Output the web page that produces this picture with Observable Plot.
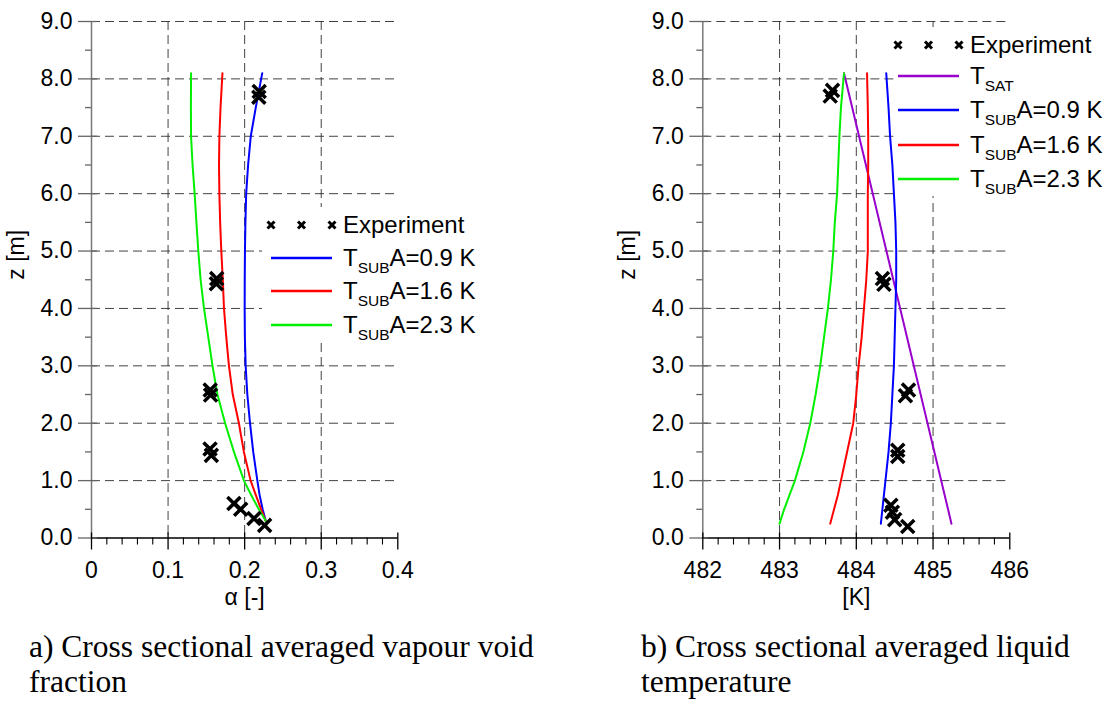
<!DOCTYPE html>
<html><head><meta charset="utf-8">
<script src="https://cdn.jsdelivr.net/npm/d3@7"></script>
<script src="https://cdn.jsdelivr.net/npm/@observablehq/plot@0.6"></script>
<style>
body{margin:0;background:#fff;}
#root{position:relative;width:1109px;height:701px;overflow:hidden;font-family:"Liberation Sans",Arial,sans-serif;background:#fff;}
.chart{position:absolute;top:0;}
.legend{position:absolute;background:#fff;}
.row{position:absolute;height:30px;display:flex;align-items:center;font-size:24px;white-space:nowrap;color:#000;}
.row svg{flex:none;margin-right:6px;}
.sub{font-size:15.5px;position:relative;top:7px;}
.caption{position:absolute;font-family:"Liberation Serif","Times New Roman",serif;font-size:31.5px;line-height:35px;color:#000;white-space:nowrap;}
</style></head><body><div id="root"></div><script>
// ---------- data ----------
const zMajor = [0,1,2,3,4,5,6,7,8,9];
const zGrid = [1,2,3,4,5,6,7,8,9];
const zMinor = [0.5,1.5,2.5,3.5,4.5,5.5,6.5,7.5,8.5];

const alphaTicks = [0,0.1,0.2,0.3,0.4];
const alphaGrid = [0.1,0.2,0.3];
const tempTicks = [482,483,484,485,486];
const tempGrid = [483,484,485];

// (a) void fraction – model curves
const zAlpha =      [0.3,   0.5,   0.75,  1.0,   1.5,   2.0,   2.5,   3.0,   3.5,   4.0,   4.5,   5.0,   5.5,   6.0,   6.5,   7.0,   7.5,   8.1];
const alphaSub09 =  [0.2275,0.2235,0.2195,0.2166,0.2112,0.2070,0.2035,0.2013,0.2003,0.2000,0.2001,0.2004,0.2010,0.2020,0.2045,0.2080,0.2145,0.2230];
const alphaSub16 =  [0.2275,0.2215,0.2145,0.2078,0.1990,0.1925,0.1845,0.1795,0.1760,0.1730,0.1715,0.1695,0.1680,0.1670,0.1665,0.1670,0.1685,0.1710];
const alphaSub23 =  [0.2275,0.2185,0.2085,0.1991,0.1860,0.1745,0.1645,0.1580,0.1525,0.1469,0.1425,0.1395,0.1370,0.1347,0.1320,0.1300,0.1298,0.1300];
// (a) experiment
const expAlphaZ = [7.78, 7.68, 4.52, 4.43, 2.58, 2.49, 1.55, 1.44, 0.60, 0.50, 0.34, 0.22];
const expAlpha  = [0.219,0.2185,0.1635,0.1630,0.1550,0.1555,0.1548,0.1565,0.1860,0.1948,0.2122,0.2261];

// (b) liquid temperature – model curves
const zTemp =      [0.25,  0.5,   0.75,  1.0,   1.5,   2.0,   2.5,   3.0,   3.5,   4.0,   4.5,   5.0,   5.5,   6.0,   6.5,   7.0,   7.5,   8.1];
const tempSub09 =  [484.32,484.34,484.36,484.38,484.42,484.45,484.47,484.49,484.50,484.51,484.52,484.52,484.51,484.49,484.47,484.44,484.42,484.39];
const tempSub16 =  [483.66,483.71,483.76,483.80,483.88,483.96,484.00,484.03,484.07,484.10,484.13,484.15,484.15,484.15,484.155,484.155,484.15,484.14];
const tempSub23 =  [483.00,483.06,483.13,483.20,483.31,483.40,483.47,483.53,483.58,483.63,483.67,483.70,483.72,483.75,483.765,483.78,483.80,483.84];
const tSatZ = [0.25, 8.1];
const tSat  = [485.24, 483.84];
// (b) experiment
const expTempZ = [7.80, 7.70, 4.52, 4.42, 2.58, 2.48, 1.53, 1.42, 0.57, 0.45, 0.32, 0.20];
const expTemp  = [483.69,483.66,484.34,484.36,484.68,484.64,484.54,484.54,484.45,484.47,484.50,484.67];

const seriesValues = ["0.9","1.6","2.3"];
const seriesColors = ["#0000ff","#ff0000","#00f000"];
const tSatColor = "#9900cc";

// ---------- build ----------
const toRows = (xs, zs) => xs.map((v,i)=>({v, z: zs[i]}));

function chart({xDomain, xTicks, xMinor, xGrid, curves, exp, xLabel, width, marginLeft, marginRight}) {
  const gridStyle = {stroke:"#222", strokeOpacity:0.85, strokeDasharray:"9,5", strokeWidth:1};
  return Plot.plot({
    width, height: 620, marginLeft, marginRight, marginTop: 21, marginBottom: 82.5,
    x: {domain: xDomain}, y: {domain: [0, 9]},
    style: {fontFamily: '"Liberation Sans", Arial, sans-serif', fontSize: "23px", background: "transparent", overflow: "visible", color: "#000"},
    marks: [
      Plot.gridY(zGrid, gridStyle),
      Plot.gridX(xGrid, gridStyle),
      Plot.ruleX([xDomain[0]], {stroke:"#777", strokeWidth:1.5}),
      Plot.ruleY([0], {stroke:"#000", strokeWidth:1.3}),
      Plot.axisY(zMajor, {tickSize:19, dx:6, fill:"none", stroke:"#666", strokeWidth:1.3, label:null}),
      Plot.axisY(zMinor, {tickSize:6, fill:"none", stroke:"#666", strokeWidth:1.3, label:null}),
      Plot.axisY(zMajor, {tickSize:0, tickPadding:19, tickFormat: d => d.toFixed(1), fontSize:23, label:null}),
      Plot.axisX(xTicks, {tickSize:17, dy:-5, fill:"none", stroke:"#000", strokeWidth:1.3, label:null}),
      Plot.axisX(xMinor, {tickSize:7, fill:"none", stroke:"#000", strokeWidth:1.1, label:null}),
      Plot.axisX(xTicks, {tickSize:0, tickPadding:24, fontSize:23, label:null, tickFormat: d => String(d)}),
      ...curves.map(c => Plot.line(c.rows, {x:"v", y:"z", stroke:c.color, strokeWidth:2})),
      Plot.dot(exp, {x:"v", y:"z", symbol:"times", r:6, stroke:"#000", strokeWidth:3.5}),
      Plot.text([xLabel], {frameAnchor:"bottom", dy:67, fontSize:23}),
      Plot.text(["z [m]"], {frameAnchor:"left", dx:-75, rotate:-90, fontSize:23})
    ]
  });
}

const root = document.getElementById("root");

const chartA = chart({
  xDomain:[0,0.4], xTicks: alphaTicks, xMinor: d3.range(0, 0.4001, 0.02).filter(v => Math.abs(v*10 - Math.round(v*10)) > 1e-6),
  xGrid: alphaGrid, xLabel: "α [-]", width: 480, marginLeft: 91, marginRight: 82.7,
  curves: [
    {rows: toRows(alphaSub09, zAlpha), color: seriesColors[0]},
    {rows: toRows(alphaSub16, zAlpha), color: seriesColors[1]},
    {rows: toRows(alphaSub23, zAlpha), color: seriesColors[2]}
  ],
  exp: toRows(expAlpha, expAlphaZ)
});
chartA.classList.add("chart"); chartA.style.left = "0px";
root.appendChild(chartA);

const chartB = chart({
  xDomain:[482,486], xTicks: tempTicks, xMinor: d3.range(482, 486.001, 0.2).filter(v => Math.abs(v - Math.round(v)) > 1e-6),
  xGrid: tempGrid, xLabel: "[K]", width: 509, marginLeft: 102.3, marginRight: 99.7,
  curves: [
    {rows: toRows(tSat, tSatZ), color: tSatColor},
    {rows: toRows(tempSub09, zTemp), color: seriesColors[0]},
    {rows: toRows(tempSub16, zTemp), color: seriesColors[1]},
    {rows: toRows(tempSub23, zTemp), color: seriesColors[2]}
  ],
  exp: toRows(expTemp, expTempZ)
});
chartB.classList.add("chart"); chartB.style.left = "600px";
root.appendChild(chartB);

// ---------- legends ----------
function swatch(kind, color) {
  const ns = "http://www.w3.org/2000/svg";
  const s = document.createElementNS(ns, "svg");
  s.setAttribute("width", 72); s.setAttribute("height", 30);
  if (kind === "line") {
    const l = document.createElementNS(ns, "line");
    l.setAttribute("x1", 6); l.setAttribute("x2", 67); l.setAttribute("y1", 15); l.setAttribute("y2", 15);
    l.setAttribute("stroke", color); l.setAttribute("stroke-width", 2.5);
    s.appendChild(l);
  } else {
    for (const cx of [6, 36.5, 67]) {
      for (const d of [[-3.5,-3.5,3.5,3.5],[-3.5,3.5,3.5,-3.5]]) {
        const l = document.createElementNS(ns, "line");
        l.setAttribute("x1", cx+d[0]); l.setAttribute("y1", 15+d[1]);
        l.setAttribute("x2", cx+d[2]); l.setAttribute("y2", 15+d[3]);
        l.setAttribute("stroke", "#000"); l.setAttribute("stroke-width", 3);
        s.appendChild(l);
      }
    }
  }
  return s;
}
function legend({left, top, width, height, pad, entries}) {
  const box = document.createElement("div");
  box.className = "legend";
  Object.assign(box.style, {left: left+"px", top: top+"px", width: width+"px", height: height+"px"});
  for (const e of entries) {
    const r = document.createElement("div");
    r.className = "row";
    r.style.left = pad + "px"; r.style.top = (e.cy - top - 15) + "px";
    r.appendChild(swatch(e.kind, e.color));
    const t = document.createElement("span");
    t.innerHTML = e.html;
    r.appendChild(t);
    box.appendChild(r);
  }
  root.appendChild(box);
}
const subLabel = v => `T<span class="sub">SUB</span>A=${v} K`;

legend({left: 262, top: 207, width: 210, height: 136, pad: 3, entries: [
  {kind:"x", html:"Experiment", cy:225},
  {kind:"line", color:seriesColors[0], html: subLabel(seriesValues[0]), cy:257.5},
  {kind:"line", color:seriesColors[1], html: subLabel(seriesValues[1]), cy:291},
  {kind:"line", color:seriesColors[2], html: subLabel(seriesValues[2]), cy:325}
]});
legend({left: 896, top: 27, width: 213, height: 169, pad: -4, entries: [
  {kind:"x", html:"Experiment", cy:44.5},
  {kind:"line", color:tSatColor, html:`T<span class="sub">SAT</span>`, cy:76},
  {kind:"line", color:seriesColors[0], html: subLabel(seriesValues[0]), cy:110},
  {kind:"line", color:seriesColors[1], html: subLabel(seriesValues[1]), cy:144.5},
  {kind:"line", color:seriesColors[2], html: subLabel(seriesValues[2]), cy:179}
]});

// ---------- captions ----------
function caption(left, lines) {
  const c = document.createElement("div");
  c.className = "caption";
  c.style.left = left + "px"; c.style.top = "629px";
  c.innerHTML = lines.join("<br>");
  root.appendChild(c);
}
caption(29, ["a) Cross sectional averaged vapour void", "fraction"]);
caption(641, ["b) Cross sectional averaged liquid", "temperature"]);
</script></body></html>
